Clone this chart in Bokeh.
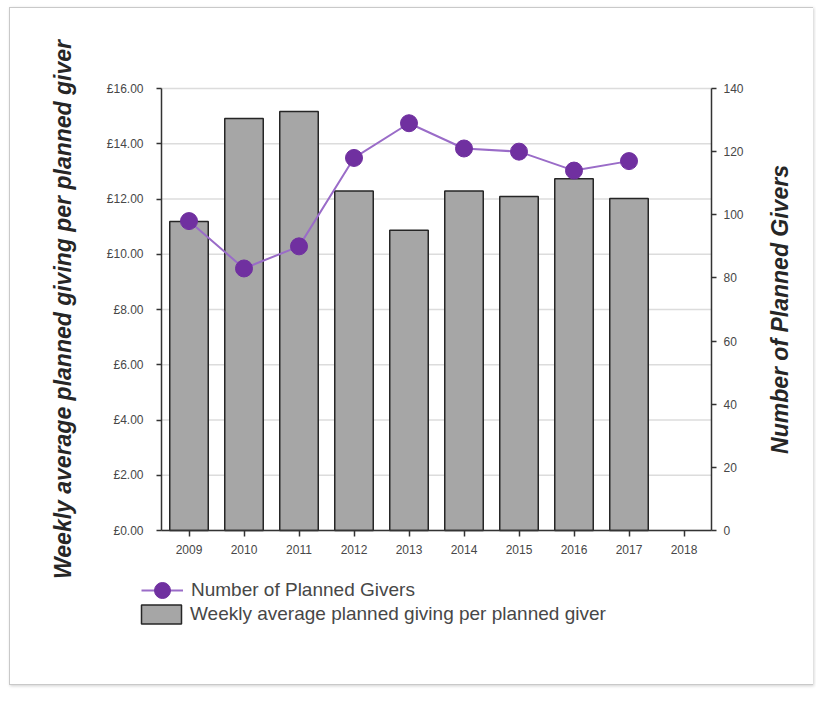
from bokeh.plotting import figure
from bokeh.models import (Range1d, LinearAxis, FixedTicker, CustomJSTickFormatter,
                          Legend, LegendItem, Label)
from bokeh.embed import file_html
from bokeh.resources import INLINE

# ---- data ----
years = [2009, 2010, 2011, 2012, 2013, 2014, 2015, 2016, 2017, 2018]
data_years = [2009, 2010, 2011, 2012, 2013, 2014, 2015, 2016, 2017]
weekly_avg = [11.19, 14.91, 15.17, 12.29, 10.87, 12.29, 12.09, 12.73, 12.02]
num_givers = [98, 83, 90, 118, 129, 121, 120, 114, 117]
left_ticks = [0, 2, 4, 6, 8, 10, 12, 14, 16]
right_ticks = [0, 20, 40, 60, 80, 100, 120, 140]
left_title = "Weekly average planned giving per planned giver"
right_title = "Number of Planned Givers"
bar_label = "Weekly average planned giving per planned giver"

FONT = "Liberation Sans"
TEXT = "#474747"
TITLE = "#262626"
AXIS = "#333333"

# ---- layout (page pixels) ----
CX0, CY0 = 10, 8            # canvas origin on the page
W, H = 804, 678             # canvas size
PL, PR, PT, PB = 161, 711, 88, 530   # plotting area on the page

x_lo, x_hi = years[0] - 0.5, years[-1] + 0.5
sx = (PR - PL) / (x_hi - x_lo)
x_range = Range1d(x_lo - (PL - CX0) / sx, x_hi + (CX0 + W - PR) / sx)

def y_range_for(lo, hi):
    s = (PB - PT) / (hi - lo)
    return Range1d(lo - (CY0 + H - PB) / s, hi + (PT - CY0) / s)

def px_to_x(px):
    return x_lo + (px - PL) / sx

p = figure(x_range=x_range, y_range=y_range_for(left_ticks[0], left_ticks[-1]),
           width=W, height=H, output_backend="svg", toolbar_location=None,
           x_axis_location=None, y_axis_location=None, title=None, min_border=0)
p.styles = {"border": "1px solid #c9c9c9", "border-right": "none",
            "box-shadow": "1px 1px 3px #d0d0d0",
            "margin-left": "9px", "margin-top": "7px"}
p.extra_y_ranges = {"n": y_range_for(right_ticks[0], right_ticks[-1])}
p.outline_line_color = None
p.background_fill_color = "white"
p.border_fill_color = "white"
p.grid.visible = False

# horizontal gridlines at the left-axis ticks, across the plotting area
p.segment(x0=[x_lo] * len(left_ticks), x1=[x_hi] * len(left_ticks),
          y0=left_ticks, y1=left_ticks, line_color="#DCDCDC", line_width=1.5)

bars = p.vbar(x=data_years, top=weekly_avg, width=0.7, fill_color="#A6A6A6",
              line_color="#262626", line_width=1.5)
line = p.line(x=data_years, y=num_givers, y_range_name="n", line_color="#9A6CC8",
              line_width=2)
dots = p.scatter(x=data_years, y=num_givers, y_range_name="n", size=17,
                 fill_color="#7030A0", line_color="#7030A0")

# axes, fixed at the edges of the plotting area
ya = LinearAxis(fixed_location=x_lo, bounds=(left_ticks[0], left_ticks[-1]),
                ticker=FixedTicker(ticks=left_ticks),
                formatter=CustomJSTickFormatter(code="return '\u00a3' + tick.toFixed(2);"))
ra = LinearAxis(y_range_name="n", fixed_location=x_hi,
                bounds=(right_ticks[0], right_ticks[-1]),
                ticker=FixedTicker(ticks=right_ticks))
xa = LinearAxis(fixed_location=0, bounds=(x_lo, x_hi), ticker=FixedTicker(ticks=years))
p.add_layout(ya, "left")
p.add_layout(ra, "right")
p.add_layout(xa, "below")

for ax in [ya, ra, xa]:
    ax.minor_tick_line_color = None
    ax.major_tick_in = 0
    ax.major_tick_out = 5
    ax.axis_line_color = AXIS
    ax.axis_line_width = 1.5
    ax.major_tick_line_color = AXIS
    ax.major_tick_line_width = 1.5
    ax.major_label_text_font = FONT
    ax.major_label_text_font_size = "12px"
    ax.major_label_text_color = TEXT
ya.major_label_standoff = 13
ra.major_label_standoff = 7
xa.major_tick_out = 6
xa.major_label_standoff = 8

# axis titles (both read bottom to top)
mid_left = (left_ticks[0] + left_ticks[-1]) / 2
p.add_layout(Label(x=px_to_x(62), y=mid_left, text=left_title, angle=90,
                   angle_units="deg", text_align="center", text_baseline="middle",
                   text_font=FONT, text_font_style="bold italic",
                   text_font_size="23px", text_color=TITLE))
p.add_layout(Label(x=px_to_x(779), y=mid_left, text=right_title, angle=90,
                   angle_units="deg", text_align="center", text_baseline="middle",
                   text_font=FONT, text_font_style="bold italic",
                   text_font_size="23px", text_color=TITLE))

# legend below the plotting area (two legends so each glyph has its own size)
common = dict(orientation="vertical", label_text_font=FONT,
              label_text_font_size="19px", label_text_color=TEXT,
              padding=0, margin=0, spacing=0, border_line_color=None,
              background_fill_alpha=0)
leg1 = Legend(items=[LegendItem(label=right_title, renderers=[line, dots])],
              location=(131, CY0 + H - 610), glyph_width=42, glyph_height=40,
              label_height=40, label_standoff=8, **common)
leg2 = Legend(items=[LegendItem(label=bar_label, renderers=[bars])],
              location=(126, CY0 + H - 626), glyph_width=50, glyph_height=24,
              label_height=24, label_standoff=4, **common)
p.add_layout(leg1, "center")
p.add_layout(leg2, "center")

open("out.html", "w").write(file_html(p, INLINE))
